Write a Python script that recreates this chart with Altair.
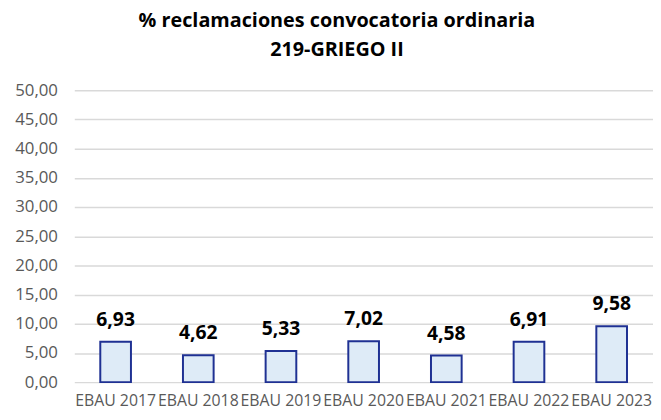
import altair as alt
import pandas as pd

categories = ["EBAU 2017", "EBAU 2018", "EBAU 2019", "EBAU 2020", "EBAU 2021", "EBAU 2022", "EBAU 2023"]
values = [6.93, 4.62, 5.33, 7.02, 4.58, 6.91, 9.58]
y_ticks = [0, 5, 10, 15, 20, 25, 30, 35, 40, 45, 50]

df = pd.DataFrame({"cat": categories, "val": values})
df["lbl"] = [f"{v:.2f}".replace(".", ",") for v in values]

FONT = "Open Sans"

x_enc = alt.X("cat:N", sort=categories, title=None,
              scale=alt.Scale(paddingInner=0, paddingOuter=0),
              axis=alt.Axis(labelAngle=0, domain=False, ticks=False, labelPadding=11,
                            labelFont=FONT, labelFontSize=16, labelColor="#595959",
                            labelOverlap=False))
y_enc = alt.Y("val:Q", title=None,
              scale=alt.Scale(domain=[0, 50], nice=False),
              axis=alt.Axis(values=y_ticks, domain=False, ticks=False, labelPadding=17,
                            labelFont=FONT, labelFontSize=17, labelColor="#595959",
                            labelOverlap=False, gridColor="#D9D9D9", gridWidth=1.5,
                            labelExpr="replace(format(datum.value, '.2f'), '.', ',')"))

base = alt.Chart(df).encode(x=x_enc, y=y_enc)

bars = base.mark_bar(size=31, fill="#DEEBF7", stroke="#1F3193", strokeWidth=2)

labels = base.mark_text(dy=-16, baseline="alphabetic", font=FONT, fontSize=19.5,
                        fontWeight="bold", color="#000000").encode(text="lbl:N")

chart = alt.layer(bars, labels).properties(
    width=585, height=295,
    title=alt.TitleParams(
        text=["% reclamaciones convocatoria ordinaria", "219-GRIEGO II"],
        font=FONT, fontSize=20, fontWeight="bold", color="#000000",
        anchor="middle", dx=-27, offset=22, lineHeight=29),
    autosize=alt.AutoSizeParams(type="none"),
    padding={"left": 67, "top": 81, "right": 0, "bottom": 27},
).configure_view(stroke=None)

chart.save("out.html", embed_options={"renderer": "svg", "actions": False})
